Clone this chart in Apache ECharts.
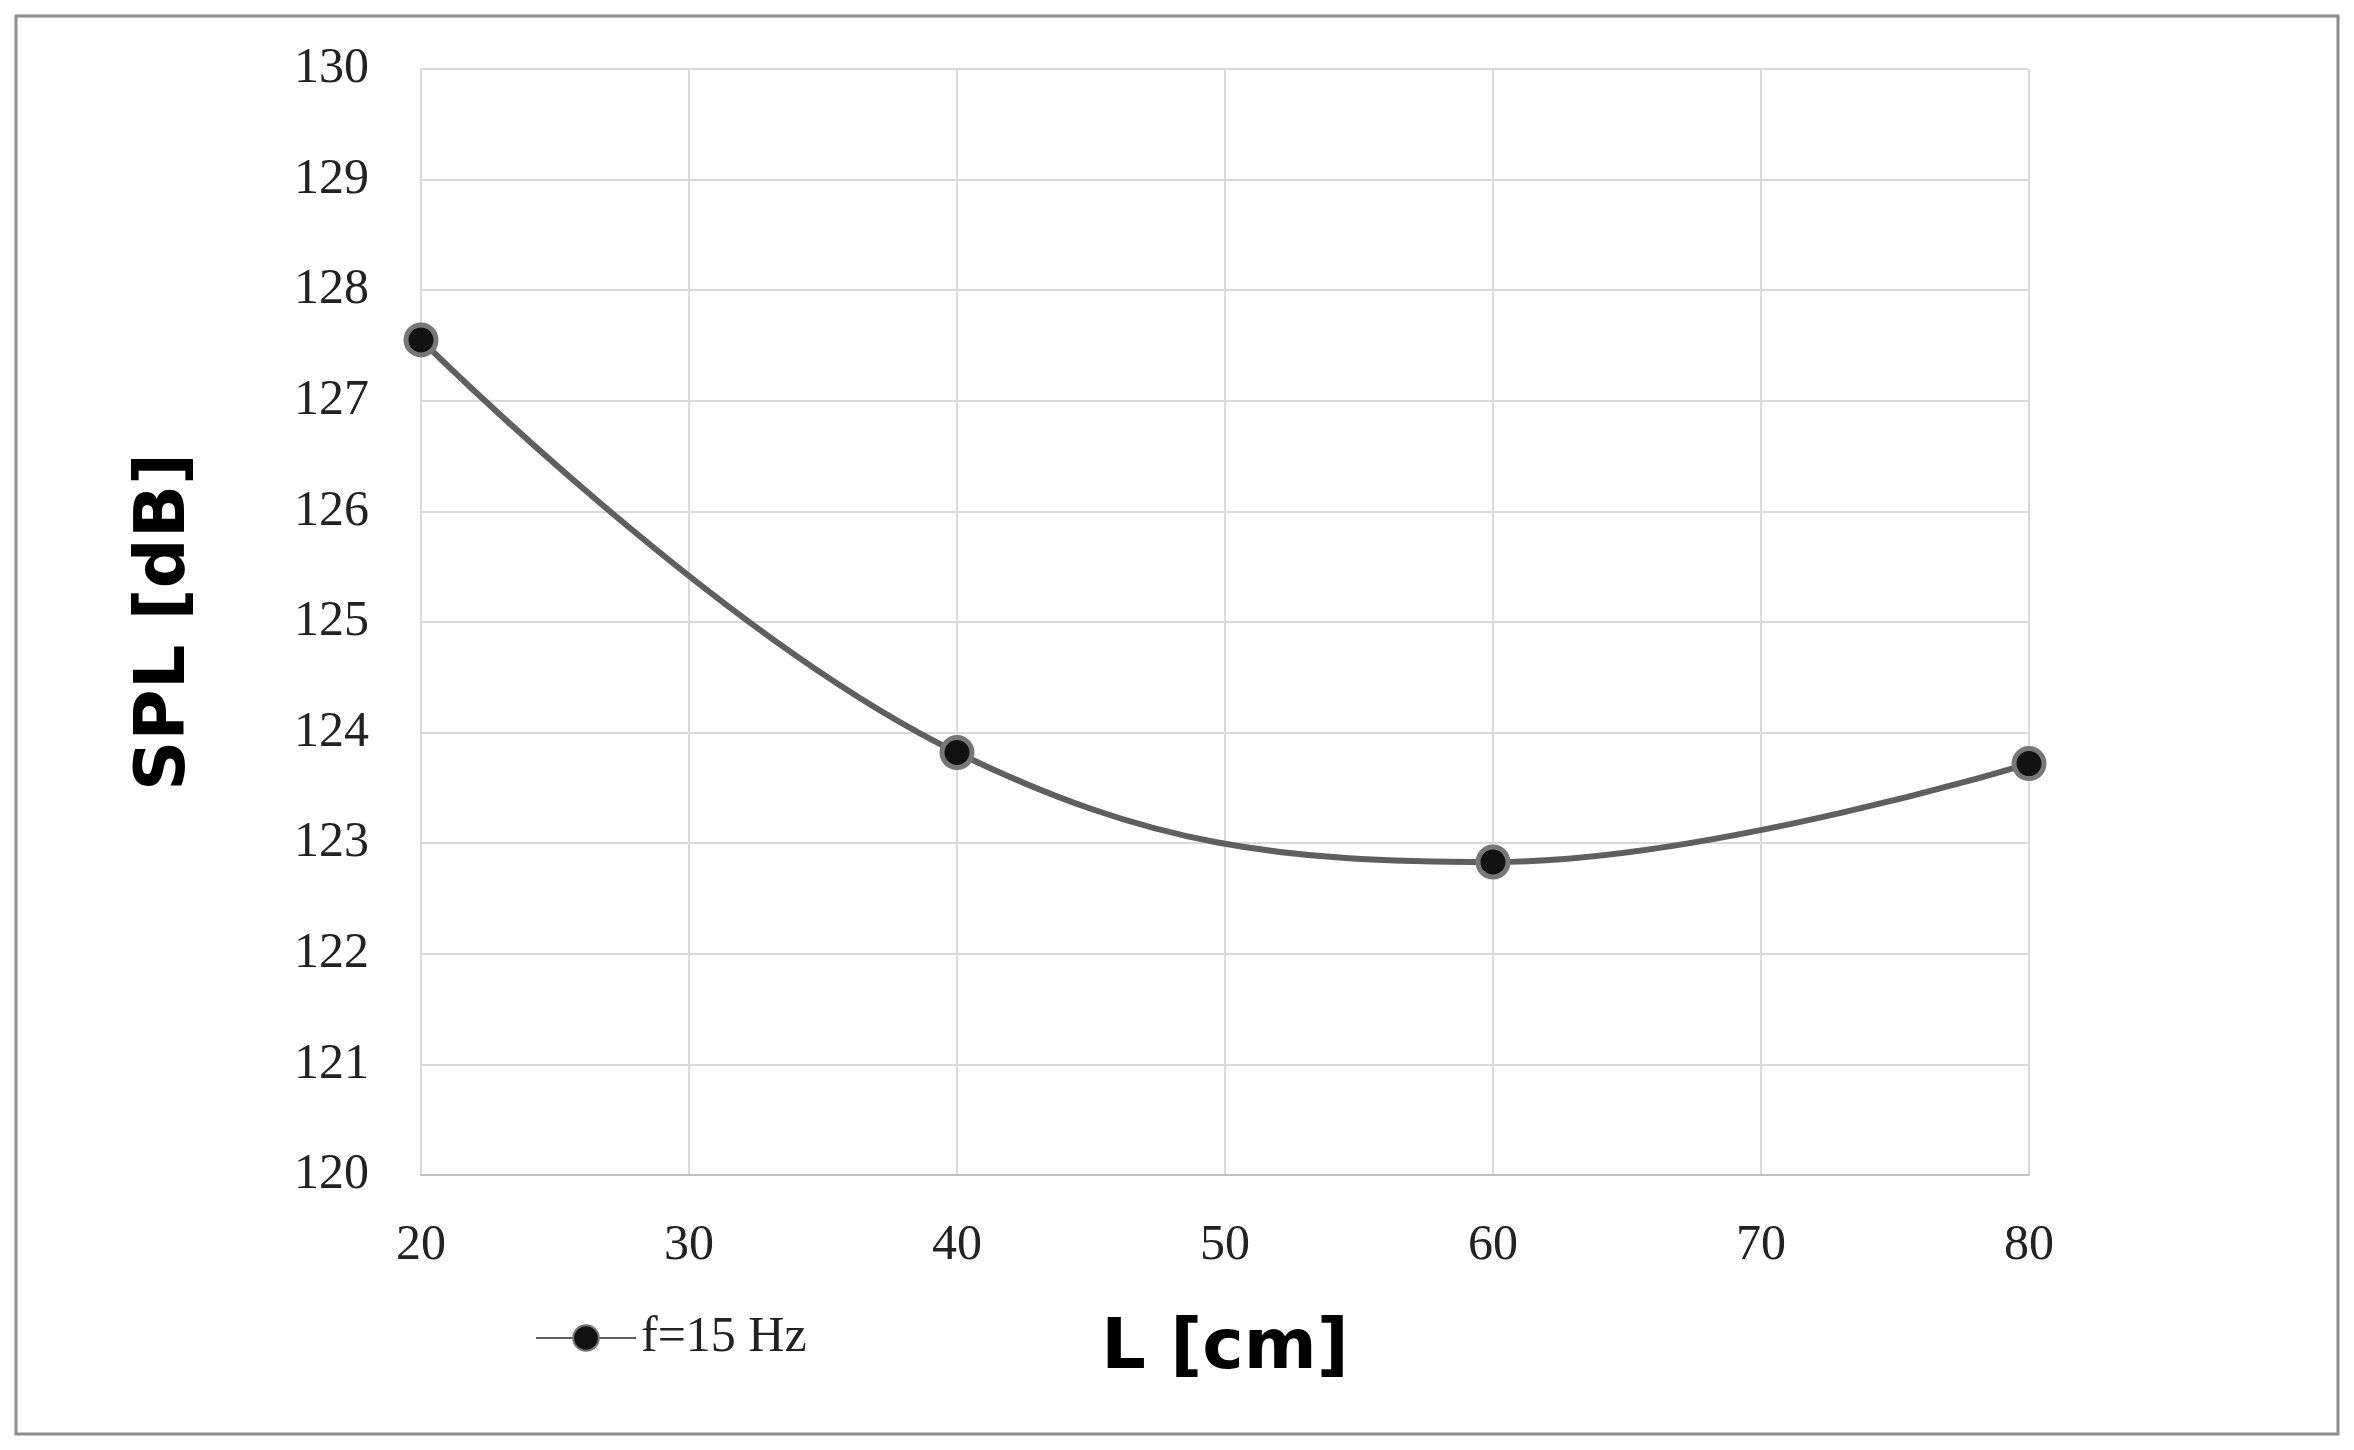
<!DOCTYPE html>
<html>
<head>
<meta charset="utf-8">
<script src="https://cdn.jsdelivr.net/npm/echarts@6/dist/echarts.min.js"></script>
<style>
  html, body { margin: 0; padding: 0; background: #fff; }
  #main { width: 2354px; height: 1450px; }
</style>
</head>
<body>
<div id="main"></div>
<script>
// data
var lengths = [20, 40, 60, 80];
var spl = [127.55, 123.82, 122.83, 123.72];
var seriesName = 'f=15 Hz';

var chart = echarts.init(document.getElementById('main'));

var points = [];
for (var i = 0; i < lengths.length; i++) {
  points.push([lengths[i], spl[i]]);
}

var option = {
  backgroundColor: '#fff',
  animation: false,
  graphic: [{
    type: 'rect',
    shape: { x: 16, y: 16, width: 2322, height: 1418 },
    style: { fill: 'none', stroke: '#8c8c8c', lineWidth: 3 }
  }],
  grid: { left: 421, right: 325, top: 69, bottom: 275 },
  legend: {
    data: [seriesName],
    left: 530,
    top: 1308,
    itemWidth: 100,
    itemHeight: 32,
    textStyle: { fontFamily: 'Liberation Serif', fontSize: 50, color: '#222' }
  },
  xAxis: {
    type: 'value',
    min: 20, max: 80, interval: 10,
    name: 'L [cm]',
    nameLocation: 'middle',
    nameGap: 140,
    nameTextStyle: { fontFamily: 'DejaVu Sans', fontWeight: 'bold', fontSize: 70, color: '#000' },
    axisLine: { lineStyle: { color: '#bfbfbf', width: 2 } },
    axisTick: { show: false },
    axisLabel: { fontFamily: 'Liberation Serif', fontSize: 50, color: '#222', margin: 46 },
    splitLine: { lineStyle: { color: '#d9d9d9', width: 2 } }
  },
  yAxis: {
    type: 'value',
    min: 120, max: 130, interval: 1,
    name: 'SPL [dB]',
    nameLocation: 'middle',
    nameGap: 220,
    nameRotate: 90,
    nameTextStyle: { fontFamily: 'DejaVu Sans', fontWeight: 'bold', fontSize: 70, color: '#000' },
    axisLine: { show: true, lineStyle: { color: '#d9d9d9', width: 2 } },
    axisTick: { show: false },
    axisLabel: { fontFamily: 'Liberation Serif', fontSize: 50, color: '#222', margin: 52 },
    splitLine: { lineStyle: { color: '#d9d9d9', width: 2 } }
  },
  series: [{
    name: seriesName,
    type: 'line',
    smooth: 0.4,
    data: points,
    symbol: 'circle',
    symbolSize: 30,
    lineStyle: { color: '#5f5f5f', width: 6 },
    itemStyle: { color: '#111', borderColor: '#777', borderWidth: 5 }
  }]
};

chart.setOption(option);
</script>
</body>
</html>
